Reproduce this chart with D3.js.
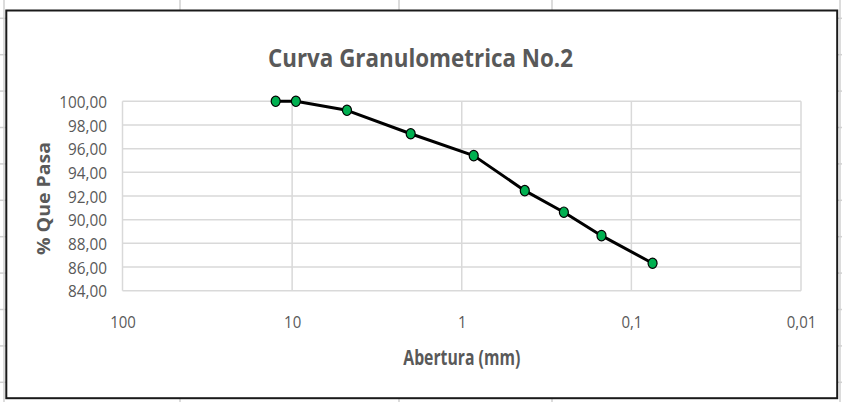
<!DOCTYPE html>
<html>
<head>
<meta charset="utf-8">
<script src="https://cdn.jsdelivr.net/npm/d3@7"></script>
<style>
  html, body { margin: 0; padding: 0; background: #ffffff; }
  svg { display: block; }
  text { font-family: "Open Sans", "Noto Sans", sans-serif; }
</style>
</head>
<body>
<svg id="chart" width="842" height="402"></svg>
<script>
// Sieve openings (mm) and cumulative percent passing
const sieveOpenings = [12.5, 9.5, 4.75, 2.0, 0.85, 0.425, 0.25, 0.15, 0.075];
const percentPassing = [100.00, 100.00, 99.24, 97.26, 95.41, 92.45, 90.63, 88.65, 86.32];
const xTickValues = [100, 10, 1, 0.1, 0.01];
const yTickValues = [84, 86, 88, 90, 92, 94, 96, 98, 100];

const chartTitle = "Curva Granulometrica No.2";
const xTitle = "Abertura (mm)";
const yTitle = "% Que Pasa";

const W = 842, H = 402;
const plot = { left: 122.5, right: 801, top: 101.3, bottom: 290.7 };
const textColor = "#595959";
const gridColor = "#d9d9d9";
const sheetLine = "#d0d0d0";

const svg = d3.select("#chart");

// Comma decimal separator
const locale = d3.formatLocale({ decimal: ",", thousands: ".", grouping: [3], currency: ["", ""] });
const yFmt = locale.format(".2f");
const xFmt = locale.format("~g");

// Condense glyphs horizontally to a narrow face
function squeeze(sel, k) {
  sel.each(function () {
    const w = this.getComputedTextLength();
    d3.select(this).attr("textLength", w * k).attr("lengthAdjust", "spacingAndGlyphs");
  });
}

// Worksheet cell lines behind the chart object
const sheet = svg.append("g");
sheet.selectAll("line.col")
  .data([4, 180, 399, 552, 840])
  .join("line")
  .attr("x1", d => d).attr("x2", d => d)
  .attr("y1", 0).attr("y2", H)
  .attr("stroke", sheetLine).attr("stroke-width", 1.5);
const rowYs = d3.range(11).map(i => 18.3 + i * 36.4);
sheet.selectAll("line.rowL")
  .data(rowYs)
  .join("line")
  .attr("x1", 0).attr("x2", 6).attr("y1", d => d).attr("y2", d => d)
  .attr("stroke", sheetLine).attr("stroke-width", 1.5);
sheet.selectAll("line.rowR")
  .data(rowYs)
  .join("line")
  .attr("x1", 836).attr("x2", 842).attr("y1", d => d).attr("y2", d => d)
  .attr("stroke", sheetLine).attr("stroke-width", 1.5);

// Chart object frame
svg.append("rect")
  .attr("x", 6.3).attr("y", 10.5)
  .attr("width", 837.2 - 6.3).attr("height", 398.2 - 10.5)
  .attr("fill", "#ffffff")
  .attr("stroke", "#1a1a1a").attr("stroke-width", 2);

// Scales: reversed logarithmic opening axis
const x = d3.scaleLog().domain([100, 0.01]).range([plot.left, plot.right]);
const y = d3.scaleLinear().domain([84, 100]).range([plot.bottom, plot.top]);

// Gridlines
const grid = svg.append("g");
grid.selectAll("line.h")
  .data(yTickValues)
  .join("line")
  .attr("x1", plot.left).attr("x2", plot.right)
  .attr("y1", d => y(d)).attr("y2", d => y(d))
  .attr("stroke", gridColor).attr("stroke-width", 1.5);
grid.selectAll("line.v")
  .data(xTickValues)
  .join("line")
  .attr("x1", d => x(d)).attr("x2", d => x(d))
  .attr("y1", plot.top).attr("y2", plot.bottom)
  .attr("stroke", gridColor).attr("stroke-width", 1.5);

// Y axis labels
const yAxis = svg.append("g")
  .attr("transform", `translate(${plot.left - 15.5},0)`)
  .call(d3.axisLeft(y).tickValues(yTickValues).tickFormat(yFmt).tickSize(0).tickPadding(0));
yAxis.select(".domain").remove();
yAxis.selectAll("text")
  .attr("fill", textColor)
  .attr("font-size", 17)
  .attr("dy", "0.36em");
squeeze(yAxis.selectAll("text"), 0.9);

// X axis labels
const xAxis = svg.append("g")
  .attr("transform", `translate(0,${plot.bottom})`)
  .call(d3.axisBottom(x).tickValues(xTickValues).tickFormat(xFmt).tickSize(0).tickPadding(0));
xAxis.select(".domain").remove();
xAxis.selectAll("text")
  .attr("fill", textColor)
  .attr("font-size", 17)
  .attr("y", 328.3 - plot.bottom)
  .attr("dy", 0);
squeeze(xAxis.selectAll("text"), 0.88);

// Titles
svg.append("text")
  .attr("x", 420.5).attr("y", 66.7)
  .attr("text-anchor", "middle")
  .attr("font-size", 25.5).attr("font-weight", "bold")
  .attr("fill", textColor)
  .attr("textLength", 305).attr("lengthAdjust", "spacingAndGlyphs")
  .text(chartTitle);

svg.append("text")
  .attr("x", (plot.left + plot.right) / 2).attr("y", 365)
  .attr("text-anchor", "middle")
  .attr("font-size", 20.5).attr("font-weight", "bold")
  .attr("fill", textColor)
  .attr("textLength", 117).attr("lengthAdjust", "spacingAndGlyphs")
  .text(xTitle);

svg.append("text")
  .attr("transform", "translate(50,198.5) rotate(-90)")
  .attr("text-anchor", "middle")
  .attr("font-size", 17).attr("font-weight", "bold")
  .attr("fill", textColor)
  .attr("textLength", 113).attr("lengthAdjust", "spacingAndGlyphs")
  .text(yTitle);

// Grading curve
const pts = sieveOpenings.map((d, i) => ({ opening: d, pass: percentPassing[i] }));
svg.append("path")
  .datum(pts)
  .attr("fill", "none")
  .attr("stroke", "#000000")
  .attr("stroke-width", 3)
  .attr("stroke-linejoin", "round")
  .attr("d", d3.line().x(d => x(d.opening)).y(d => y(d.pass)));

svg.append("g")
  .selectAll("ellipse")
  .data(pts)
  .join("ellipse")
  .attr("cx", d => x(d.opening))
  .attr("cy", d => y(d.pass))
  .attr("rx", 4.5).attr("ry", 5.2)
  .attr("fill", "#00b050")
  .attr("stroke", "#000000").attr("stroke-width", 1.2);
</script>
</body>
</html>
